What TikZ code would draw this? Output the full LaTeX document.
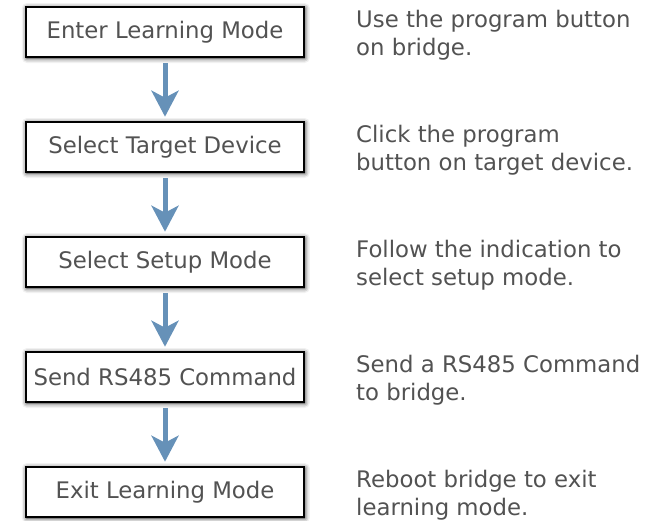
\documentclass[tikz,border=0pt]{standalone}
\usepackage{fontspec}
\setmainfont{DejaVu Sans}
\usetikzlibrary{positioning,arrows.meta,shadows.blur}

\definecolor{txtgray}{RGB}{82,82,82}
\definecolor{arrblue}{RGB}{102,145,184}

\begin{document}
\begin{tikzpicture}[
    x=1pt, y=-1pt,
    stepbox/.style={draw, line width=2.6pt, fill=white, minimum width=278pt, minimum height=50pt, inner sep=0pt, text=txtgray, font=\fontsize{22.8}{28}\selectfont, blur shadow={shadow xshift=0.8pt, shadow yshift=-1pt, shadow blur radius=5pt, shadow opacity=85}},
    desc/.style={anchor=north west, align=left, inner sep=0pt, text=txtgray, font=\fontsize{22.8}{28}\selectfont},
    arr/.style={line width=5pt, draw=arrblue, -{Stealth[length=26pt, width=27pt, inset=7pt]}, shorten <=5pt, shorten >=4pt}
]
\useasboundingbox (0,0) rectangle (660,520);

% Steps on the left
\foreach \i/\txt in {0/Enter Learning Mode, 1/Select Target Device, 2/Select Setup Mode, 3/Send RS485 Command, 4/Exit Learning Mode} {
    \node[stepbox] (S\i) at (165,32+\i*115) {\txt};
}

% Notes on the right
\foreach \i/\txt in {0/{Use the program button\\on bridge.}, 1/{Click the program\\button on target device.}, 2/{Follow the indication to\\select setup mode.}, 3/{Send a RS485 Command\\to bridge.}, 4/{Reboot bridge to exit\\learning mode.}} {
    \node[desc] (D\i) at (356,10+\i*115) {\txt};
}

% Arrows between steps
\foreach \i in {1,2,3,4} {
    \draw[arr] (S\the\numexpr\i-1\relax.south) -- (S\i.north);
}

\end{tikzpicture}
\end{document}
